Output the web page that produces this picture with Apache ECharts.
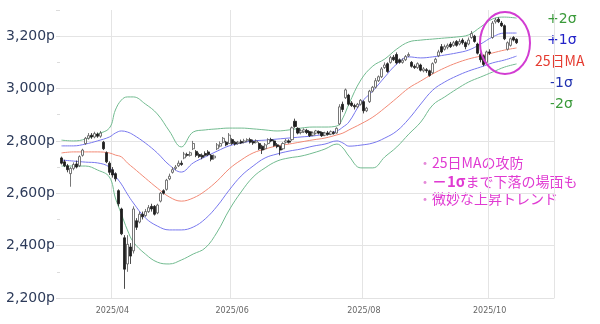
<!DOCTYPE html>
<html><head><meta charset="utf-8">
<script src="https://cdn.jsdelivr.net/npm/echarts@6/dist/echarts.min.js"></script>
<style>html,body{margin:0;padding:0;background:#fff}#c{width:600px;height:324px}</style>
</head><body><div id="c"></div>
<script>
// ---- data ----
const startDate = '2025-03-07';
const slotCount = 165;
const holidays = ['2025-04-18','2025-04-21','2025-05-05','2025-05-26','2025-08-25'];
const tickMonths = ['2025/04','2025/06','2025/08','2025/10'];
const yTicks = [2200, 2400, 2600, 2800, 3000, 3200];

// [open, close, low, high]
const candles = [
[2735,2715,2710,2740],[2720,2705,2700,2728],[2705,2690,2680,2712],[2675,2695,2625,2700],[2695,2710,2688,2718],
[2712,2700,2695,2725],[2705,2740,2700,2745],[2745,2765,2740,2770],[2790,2810,2785,2815],[2810,2820,2805,2830],
[2822,2815,2808,2830],[2815,2828,2810,2835],[2826,2818,2812,2832],[2818,2830,2812,2838],[2795,2770,2765,2800],
[2755,2720,2715,2760],[2715,2680,2670,2722],[2690,2670,2660,2700],[2675,2655,2645,2680],[2610,2560,2550,2615],
[2540,2445,2440,2545],[2430,2310,2235,2440],[2330,2405,2300,2440],[2395,2360,2330,2410],[2380,2540,2370,2550],
[2495,2470,2460,2505],[2490,2520,2485,2530],[2520,2510,2500,2530],[2515,2530,2510,2540],[2530,2545,2525,2555],
[2550,2540,2530,2560],[2550,2520,2515,2555],[2525,2555,2520,2560],[2570,2600,2565,2605],[2610,2600,2595,2615],
[2615,2650,2610,2655],[2655,2665,2650,2675],[2680,2690,2675,2700],[2695,2700,2688,2708],[2705,2715,2700,2725],
[2715,2710,2705,2725],[2735,2750,2730,2758],[2748,2745,2740,2755],[2745,2755,2740,2760],[2770,2790,2765,2800],
[2760,2745,2738,2765],[2748,2740,2735,2755],[2745,2738,2730,2752],[2752,2745,2740,2760],[2758,2748,2742,2765],
[2745,2730,2722,2750],[2735,2742,2728,2748],[2770,2785,2765,2792],[2780,2790,2775,2798],[2795,2810,2790,2815],
[2795,2785,2780,2800],[2790,2822,2788,2830],[2805,2790,2785,2810],[2795,2788,2782,2800],[2790,2795,2785,2800],
[2798,2792,2788,2805],[2795,2800,2790,2808],[2800,2805,2795,2810],[2805,2795,2790,2812],[2798,2792,2785,2805],
[2795,2800,2790,2806],[2790,2770,2765,2795],[2780,2765,2750,2785],[2770,2785,2765,2792],[2790,2805,2785,2810],
[2805,2800,2795,2812],[2800,2782,2778,2805],[2785,2778,2772,2792],[2780,2765,2745,2782],[2770,2790,2765,2795],
[2795,2800,2790,2808],[2800,2795,2790,2806],[2805,2850,2800,2855],[2875,2855,2850,2885],[2848,2830,2825,2852],
[2832,2838,2825,2845],[2835,2842,2830,2848],[2840,2832,2826,2846],[2835,2820,2815,2838],[2822,2830,2818,2836],
[2830,2838,2825,2842],[2836,2830,2825,2840],[2832,2820,2815,2836],[2822,2830,2818,2835],[2830,2825,2820,2838],
[2826,2835,2822,2840],[2832,2828,2824,2838],[2830,2848,2828,2852],[2865,2930,2860,2940],[2940,2920,2910,2950],
[2965,2995,2960,3000],[2975,2940,2935,2980],[2945,2935,2930,2952],[2935,2930,2920,2942],[2930,2940,2925,2945],
[2940,2955,2935,2960],[2950,2915,2905,2955],[2915,2925,2910,2930],[2950,2990,2945,2995],[2990,3005,2985,3010],
[3005,3030,3000,3040],[3030,3045,3025,3050],[3045,3075,3040,3082],[3080,3090,3075,3100],[3095,3065,3060,3100],
[3100,3118,3095,3125],[3120,3110,3105,3128],[3130,3098,3092,3138],[3110,3100,3095,3115],[3100,3108,3095,3115],
[3110,3122,3105,3128],[3125,3130,3120,3138],[3100,3085,3080,3105],[3085,3080,3075,3092],[3080,3095,3075,3100],
[3090,3070,3065,3095],[3068,3075,3062,3082],[3072,3068,3060,3078],[3068,3050,3045,3072],[3060,3095,3055,3100],
[3100,3112,3095,3118],[3125,3140,3120,3148],[3160,3140,3135,3170],[3150,3160,3145,3168],[3158,3165,3150,3172],
[3170,3160,3155,3178],[3165,3175,3160,3182],[3180,3165,3160,3185],[3170,3180,3165,3190],[3185,3175,3168,3192],
[3175,3160,3150,3180],[3170,3185,3165,3195],[3195,3210,3190,3220],[3200,3180,3175,3205],[3170,3135,3130,3175],
[3130,3110,3100,3138],[3125,3092,3085,3130],[3100,3140,3095,3145],[3140,3135,3128,3150],[3195,3250,3190,3258],
[3255,3262,3248,3270],[3265,3255,3250,3272],[3250,3240,3235,3258],[3240,3190,3185,3245],[3150,3175,3145,3180],
[3165,3190,3160,3195],[3195,3185,3180,3200],[3188,3175,3170,3192]
];

// Bollinger band readings at these trading-day indexes
const bandSlots = [0,4,8,12,16,18,20,22,24,28,32,36,40,44,48,52,56,60,64,68,72,76,80,84,88,92,94,96,100,104,108,112,116,120,124,128,132,136,140,144,148,152];
const plus2 = [2803,2800,2807,2826,2849,2918,2956,2968,2968,2941,2903,2838,2777,2834,2842,2846,2849,2849,2846,2842,2838,2842,2849,2853,2853,2857,2888,2941,3033,3086,3113,3151,3178,3185,3189,3193,3197,3205,3235,3266,3273,3269];
const plus1 = [2781,2781,2788,2800,2815,2830,2838,2834,2823,2792,2754,2708,2681,2716,2739,2761,2781,2792,2800,2803,2807,2811,2815,2819,2826,2838,2853,2872,2945,2991,3044,3094,3121,3117,3121,3128,3136,3147,3170,3197,3212,3212];
const ma25  = [2754,2758,2758,2758,2754,2746,2739,2716,2697,2658,2620,2586,2570,2582,2609,2647,2693,2727,2754,2769,2781,2788,2796,2804,2811,2823,2830,2842,2865,2891,2926,2964,3002,3029,3056,3079,3098,3113,3124,3136,3147,3155];
const minus1 = [2727,2723,2719,2716,2700,2666,2635,2597,2563,2506,2475,2460,2460,2471,2502,2551,2612,2666,2704,2735,2750,2761,2769,2780,2788,2800,2792,2780,2784,2792,2811,2838,2884,2941,2994,3025,3048,3067,3082,3098,3109,3124];
const minus2 = [2704,2704,2704,2689,2662,2582,2521,2460,2414,2368,2337,2330,2345,2368,2391,2452,2536,2605,2662,2697,2723,2735,2742,2754,2769,2788,2773,2742,2697,2697,2739,2777,2826,2872,2937,2968,2998,3025,3044,3063,3082,3094];

const legendLabels = ['+2σ','+1σ','25日MA','-1σ','-2σ'];
const notes = ['25日MAの攻防','－1σ','まで下落の場面も','微妙な上昇トレンド'];

// ---- build trading-day categories ----
function pad(n){return (n<10?'0':'')+n;}
const dates = [];
{
  const d = new Date(startDate + 'T00:00:00Z');
  while (dates.length < slotCount) {
    const wd = d.getUTCDay();
    const s = d.getUTCFullYear() + '-' + pad(d.getUTCMonth()+1) + '-' + pad(d.getUTCDate());
    if (wd !== 0 && wd !== 6 && holidays.indexOf(s) < 0) dates.push(s);
    d.setUTCDate(d.getUTCDate() + 1);
  }
}
function isTick(i){
  if (i === 0) return false;
  const m = dates[i].slice(0,7).replace('-','/');
  return dates[i-1].slice(0,7) !== dates[i].slice(0,7) && tickMonths.indexOf(m) >= 0;
}
function band(vals){ return bandSlots.map((s,k)=>[dates[s], vals[k]]); }

const green = '#72bb90', blue = '#7878ee', red = '#f28a76';
function lineSeries(name, vals, color){
  return {name, type:'line', data: band(vals), smooth: 0.4, showSymbol:false, symbol:'none',
    lineStyle:{color, width:1}, z:2, silent:true};
}

const magenta = '#e03ad2';
const noteRich = {
  b:{fill:'#e58ad9', fontSize:14, fontFamily:'Noto Sans CJK JP'},
  t:{fill:magenta, fontSize:14, fontFamily:'Noto Sans CJK JP'},
  s:{fill:magenta, fontSize:15, fontWeight:'bold', fontFamily:'Noto Sans CJK JP'}
};

const chart = echarts.init(document.getElementById('c'), null, {renderer:'canvas'});
chart.setOption({
  animation:false,
  grid:{left:60, right:46, top:10, bottom:26},
  xAxis:{type:'category', data:dates, boundaryGap:true,
    axisLine:{lineStyle:{color:'#e2e2e2'}}, axisTick:{show:false},
    axisLabel:{interval:(i)=>isTick(i), formatter:(v)=>v.slice(0,7).replace('-','/'),
      fontSize:8, color:'#666', margin:9, fontFamily:'DejaVu Sans'},
    splitLine:{show:true, interval:(i)=>isTick(i), lineStyle:{color:'#e4e4e4', width:1}}},
  yAxis:{type:'value', min:yTicks[0], max:3300, interval:200,
    axisLine:{show:false},
    axisTick:{show:true, length:4, lineStyle:{color:'#dcdcdc'}},
    minorTick:{show:true, splitNumber:2, length:3, lineStyle:{color:'#dcdcdc'}},
    axisLabel:{formatter:(v)=>v.toLocaleString('en-US')+'p', showMaxLabel:false,
      fontSize:14, color:'#2d3b5a', margin:5, fontFamily:'DejaVu Sans'},
    splitLine:{show:true, showMaxLine:false, lineStyle:{color:'#e4e4e4'}}},
  series:[
    lineSeries('+2σ', plus2, green),
    lineSeries('+1σ', plus1, blue),
    lineSeries('25MA', ma25, red),
    lineSeries('-1σ', minus1, blue),
    lineSeries('-2σ', minus2, green),
    {type:'candlestick', data:candles, barWidth:2.6, z:5,
      itemStyle:{color:'#ffffff', color0:'#1e1e1e', borderColor:'#555555', borderColor0:'#1e1e1e', borderWidth:0.8}}
  ],
  graphic:[
    {type:'ellipse', shape:{cx:505, cy:43, rx:25, ry:31}, style:{fill:'none', stroke:'#d23cd2', lineWidth:2}, z:10},
    {type:'text', left:547, top:12, style:{text:legendLabels[0], fill:'#3a9a3a', font:'14px "DejaVu Sans"'}},
    {type:'text', left:547, top:33, style:{text:legendLabels[1], fill:'#2323c8', font:'14px "DejaVu Sans"'}},
    {type:'text', left:535, top:54, style:{text:legendLabels[2], fill:'#e53b30', font:'14px "Noto Sans CJK JP"'}},
    {type:'text', left:550, top:76, style:{text:legendLabels[3], fill:'#2233b0', font:'14px "DejaVu Sans"'}},
    {type:'text', left:550, top:97, style:{text:legendLabels[4], fill:'#3a9a3a', font:'14px "DejaVu Sans"'}},
    {type:'text', left:418, top:156, style:{text:'{b|・}{t|'+notes[0]+'}', rich:noteRich}},
    {type:'text', left:418, top:174, style:{text:'{b|・}{s|'+notes[1]+'}{t|'+notes[2]+'}', rich:noteRich}},
    {type:'text', left:418, top:192, style:{text:'{b|・}{t|'+notes[3]+'}', rich:noteRich}}
  ]
});
</script></body></html>
